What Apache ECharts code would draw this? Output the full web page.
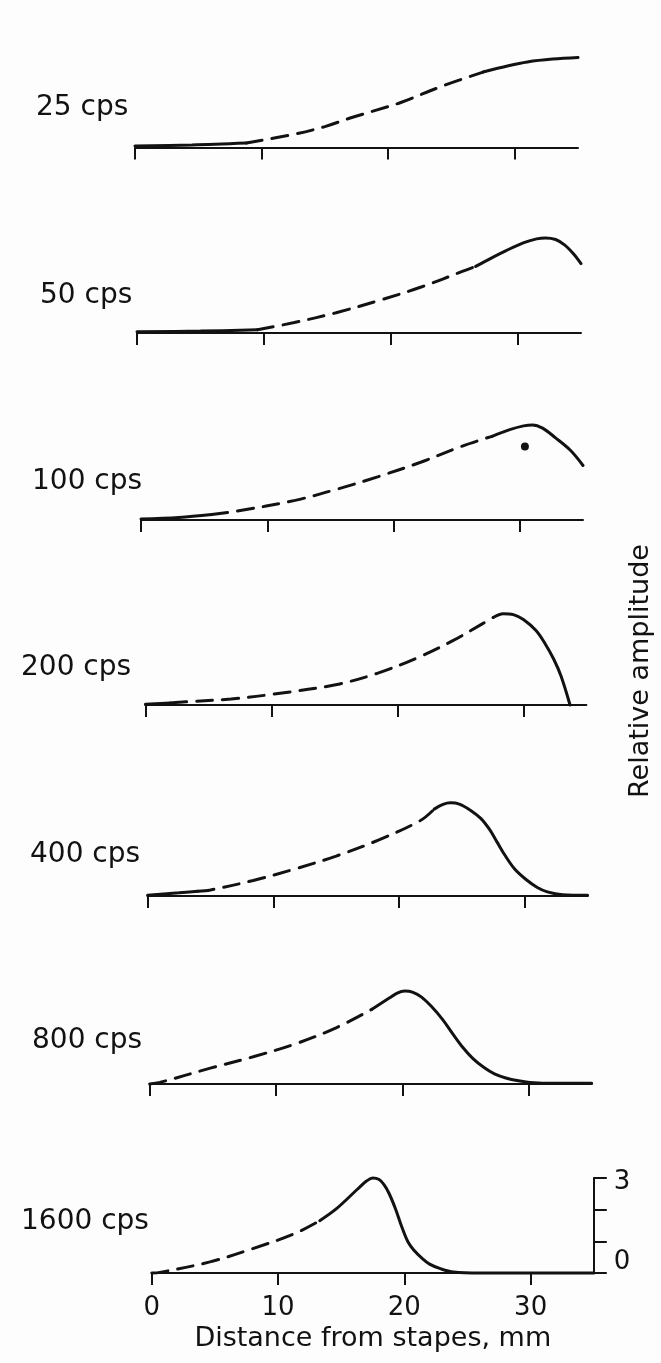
<!DOCTYPE html>
<html><head><meta charset="utf-8">
<script src="https://cdn.jsdelivr.net/npm/echarts@6/dist/echarts.min.js"></script>
<style>html,body{margin:0;padding:0;background:#fdfdfd}#c{width:661px;height:1363px}</style>
</head><body><div id="c"></div>
<script>
// ---- data ----
const panelLabels = ['25 cps', '50 cps', '100 cps', '200 cps', '400 cps', '800 cps', '1600 cps'];
const xTicks = [0, 10, 20, 30];
const yTicks = [0, 1, 2, 3];
const yTickLabels = [0, 3];
const xAxisTitle = 'Distance from stapes, mm';
const yAxisTitle = 'Relative amplitude';

// [distance from stapes (mm), relative amplitude]
const curve25 = [[0,0.05],[4.5,0.08],[8.8,0.14],[12.6,0.42],[15,0.66],[17,0.93],[19,1.17],[21,1.42],[24.3,1.94],[27.5,2.38],[29.5,2.58],[31,2.70],[33,2.79],[35,2.84]];
const curve50 = [[0,0.04],[5,0.06],[9.5,0.1],[12.4,0.33],[15.7,0.64],[19.1,1.03],[22.4,1.45],[25.7,1.95],[26.7,2.1],[28,2.38],[29.1,2.6],[30.5,2.85],[31.5,2.97],[32.2,3.0],[33,2.95],[33.7,2.78],[34.4,2.5],[35,2.19]];
const curve100 = [[0,0.03],[3,0.08],[5.6,0.17],[7.6,0.28],[12.2,0.62],[15.5,0.97],[18.8,1.37],[22.2,1.83],[25.5,2.34],[27.8,2.64],[29.2,2.85],[30.3,2.97],[31,3.0],[31.8,2.9],[32.8,2.6],[34,2.2],[35,1.72]];
const curve200 = [[0,0.02],[2,0.06],[3.2,0.1],[6.8,0.19],[10.1,0.34],[15.1,0.64],[18.4,1.0],[21.7,1.51],[24.4,2.03],[26.7,2.55],[27.6,2.76],[28.4,2.88],[29.2,2.85],[30,2.70],[31,2.35],[31.7,1.95],[32.4,1.45],[33,0.9],[33.7,0]];
const curve400 = [[0,0.02],[2.5,0.1],[4,0.15],[5,0.19],[8.4,0.49],[11.7,0.85],[15,1.26],[18.4,1.77],[21.7,2.38],[22.8,2.74],[23.5,2.89],[24.1,2.94],[24.8,2.9],[25.7,2.7],[26.5,2.45],[27.2,2.1],[27.8,1.7],[28.4,1.3],[29.2,0.85],[30.1,0.52],[31,0.27],[31.8,0.13],[33,0.04],[35,0.02]];
const curve800 = [[0,0],[0.8,0.05],[4.8,0.5],[8.2,0.86],[11.5,1.26],[14.8,1.78],[17.6,2.36],[19,2.72],[19.6,2.87],[20.2,2.93],[20.8,2.9],[21.5,2.75],[22.3,2.45],[23.2,2.03],[24,1.58],[24.8,1.15],[25.6,0.8],[26.5,0.51],[27.3,0.32],[28.2,0.19],[29.2,0.1],[30.1,0.05],[32,0.02],[35,0.02]];
const curve1600 = [[0,0],[0.65,0.02],[4.6,0.35],[8,0.77],[11.3,1.24],[13.3,1.65],[14.6,2.02],[16.3,2.65],[17,2.9],[17.5,3.0],[18,2.95],[18.4,2.78],[18.8,2.5],[19.3,2.02],[19.8,1.45],[20.3,0.97],[20.8,0.7],[21.3,0.5],[22,0.28],[22.9,0.13],[23.9,0.03],[26,0],[35,0]];
const curves = [curve25, curve50, curve100, curve200, curve400, curve800, curve1600];
// distance range (mm) drawn dashed in each curve
const dashedRanges = [[8.8,27.5],[9.5,26.7],[5.6,27.8],[2,27.6],[4,22.8],[0,17.6],[0,13.3]];
// single measured point on the 100 cps panel
const dot100 = [[30.4, 2.32]];

// ---- layout ----
const unitPx = 31.7;
const layout = [
  {left:135, base:147.5, width:443, lx:36, ly:110},
  {left:137, base:333, width:444, lx:40, ly:298},
  {left:141, base:520, width:442, lx:32, ly:484},
  {left:145.4, base:705, width:441, lx:21, ly:670},
  {left:147.6, base:896, width:440, lx:30, ly:857},
  {left:149.7, base:1084, width:442, lx:32, ly:1043},
  {left:151.8, base:1273, width:442, lx:21, ly:1224}
];
const INK = '#121212';
const FONT = 'DejaVu Sans';

function split(pts, r) {
  const [a, b] = r;
  return [pts.filter(p => p[0] <= a), pts.filter(p => p[0] >= a && p[0] <= b), pts.filter(p => p[0] >= b)];
}

const grids = [], xAxes = [], yAxes = [], series = [], graphics = [];
layout.forEach((L, i) => {
  const last = i === layout.length - 1;
  grids.push({left: L.left, top: L.base - 3 * unitPx, width: L.width, height: 3 * unitPx});
  xAxes.push({
    gridIndex: i, type: 'value', min: 0, max: 35,
    axisLine: {show: true, onZero: false, lineStyle: {color: INK, width: 2}},
    axisTick: {show: true, length: 12, customValues: xTicks, lineStyle: {color: INK, width: 2}},
    axisLabel: {show: last, customValues: xTicks, fontSize: 26, margin: 22, color: INK, fontFamily: FONT},
    splitLine: {show: false},
    name: last ? xAxisTitle : '', nameLocation: 'middle', nameGap: 52,
    nameTextStyle: {fontSize: 27, color: INK, fontFamily: FONT}
  });
  yAxes.push(last ? {
    gridIndex: i, type: 'value', min: 0, max: 3, position: 'right',
    axisLine: {show: true, onZero: false, lineStyle: {color: INK, width: 2}},
    axisTick: {show: true, length: 13, customValues: yTicks, lineStyle: {color: INK, width: 2}},
    axisLabel: {show: true, customValues: yTickLabels, margin: 20, color: INK, fontFamily: FONT, fontSize: 26,
      formatter: v => v === 0 ? '{z|0}' : '{t|' + v + '}',
      rich: {z: {fontSize: 26, fontFamily: FONT, color: INK, padding: [0, 0, 22, 0]},
             t: {fontSize: 26, fontFamily: FONT, color: INK, padding: [8, 0, 0, 0]}}},
    splitLine: {show: false}
  } : {gridIndex: i, type: 'value', min: 0, max: 3, show: false, splitLine: {show: false}});
  const parts = split(curves[i], dashedRanges[i]);
  parts.forEach((pts, k) => {
    if (pts.length < 2) return;
    series.push({
      type: 'line', xAxisIndex: i, yAxisIndex: i, data: pts, showSymbol: false,
      smooth: 0.35,
      clip: false, silent: true,
      lineStyle: {color: INK, width: 3, type: k === 1 ? [16, 10] : 'solid', cap: 'round'}
    });
  });
  graphics.push({type: 'text', left: L.lx, top: L.ly - 16,
    style: {text: panelLabels[i], fontSize: 28, fontFamily: FONT, fill: INK}});
});
series.push({type: 'scatter', xAxisIndex: 2, yAxisIndex: 2, data: dot100, symbolSize: 8,
  itemStyle: {color: INK, opacity: 1}, silent: true});
graphics.push({type: 'text', x: 641, y: 671, rotation: Math.PI / 2,
  style: {text: yAxisTitle, fontSize: 27, fontFamily: FONT, fill: INK, align: 'center', verticalAlign: 'middle'}});

const chart = echarts.init(document.getElementById('c'), null, {renderer: 'canvas'});
chart.setOption({
  backgroundColor: '#fdfdfd', animation: false,
  grid: grids, xAxis: xAxes, yAxis: yAxes, series: series, graphic: graphics
});
</script></body></html>
